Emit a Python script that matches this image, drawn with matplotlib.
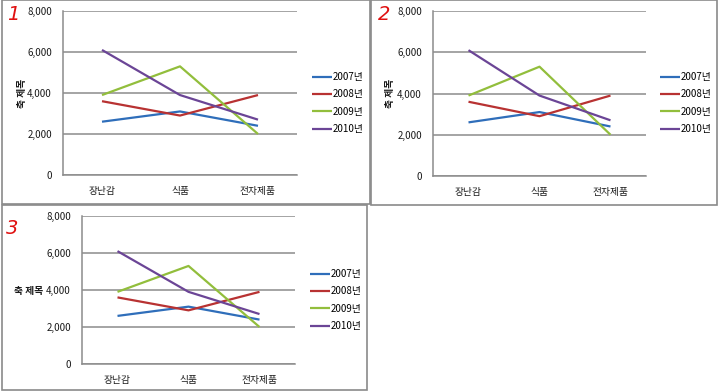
import matplotlib
matplotlib.use("Agg")
import matplotlib.pyplot as plt
from matplotlib.patches import Rectangle

plt.rcParams['font.family'] = ['Noto Sans CJK KR', 'DejaVu Sans']

categories = ["장난감", "식품", "전자제품"]
series_names = ["2007년", "2008년", "2009년", "2010년"]
v2007 = [2600, 3100, 2400]
v2008 = [3600, 2900, 3900]
v2009 = [3900, 5300, 2000]
v2010 = [6100, 3900, 2700]
yticks = [0, 2000, 4000, 6000, 8000]
ytick_labels = ["0", "2,000", "4,000", "6,000", "8,000"]
axis_title = "축 제목"
panel_marks = ["1", "2", "3"]

colors = ["#2F6EBA", "#B83232", "#92BE3C", "#6B4596"]

W, H = 720, 391
fig = plt.figure(figsize=(W / 100, H / 100), dpi=100)


def px_rect(x0, y0, x1, y1):
    # pixel box (top-left origin) -> figure fraction [l, b, w, h]
    return [x0 / W, 1 - y1 / H, (x1 - x0) / W, (y1 - y0) / H]


def frame(x0, y0, x1, y1):
    l, b, w, h = px_rect(x0, y0, x1, y1)
    fig.add_artist(Rectangle((l, b), w, h, transform=fig.transFigure,
                             fill=False, edgecolor="#8a8a8a", lw=1.2))


def draw_panel(box, ax_box, legend_pos, title_mode, title_pos, mark, mark_pos):
    frame(*box)
    ax = fig.add_axes(px_rect(*ax_box))
    x = range(len(categories))
    for name, vals, c in zip(series_names, [v2007, v2008, v2009, v2010], colors):
        ax.plot(x, vals, color=c, lw=1.6, label=name, solid_capstyle="butt")
    ax.set_xlim(-0.5, len(categories) - 0.5)
    ax.set_ylim(0, 8000)
    ax.set_yticks(yticks)
    ax.set_yticklabels(ytick_labels)
    ax.set_xticks(list(x))
    ax.set_xticklabels(categories)
    ax.yaxis.grid(True, color="#8c8c8c", lw=1.1)
    ax.set_axisbelow(True)
    for s in ["top", "right"]:
        ax.spines[s].set_visible(False)
    for s in ["left", "bottom"]:
        ax.spines[s].set_color("#8c8c8c")
        ax.spines[s].set_linewidth(1.1)
    ax.tick_params(axis="both", length=0, labelsize=7, colors="#1a1a1a")
    ax.tick_params(axis="y", pad=8)
    ax.tick_params(axis="x", pad=8)
    lx, ly = legend_pos
    ax.legend(loc="center left", bbox_to_anchor=(lx / W, 1 - ly / H),
              bbox_transform=fig.transFigure, frameon=False, fontsize=7,
              handlelength=2.1, handletextpad=0.0, labelspacing=0.75,
              borderaxespad=0, borderpad=0)
    tx, ty = title_pos
    fig.text(tx / W, 1 - ty / H, axis_title, fontsize=7, fontweight="bold",
             rotation=90 if title_mode == "v" else 0,
             ha="center", va="center", color="#1a1a1a")
    mx, my = mark_pos
    fig.text(mx / W, 1 - my / H, mark, fontsize=14, color="#e01010",
             style="italic", fontweight="light", ha="center", va="center",
             family="DejaVu Sans")


draw_panel((2, 0, 370, 204), (63, 11, 297, 175), (312, 103), "v", (22, 93),
           panel_marks[0], (13, 15))
draw_panel((371, 0, 717, 205), (433, 11, 646, 176), (660, 103), "v", (390, 93),
           panel_marks[1], (384, 14))
draw_panel((2, 205, 367, 390), (82, 216, 295, 364), (310, 300), "h", (29, 291),
           panel_marks[2], (12, 228))

fig.savefig("out.png", dpi=100)
